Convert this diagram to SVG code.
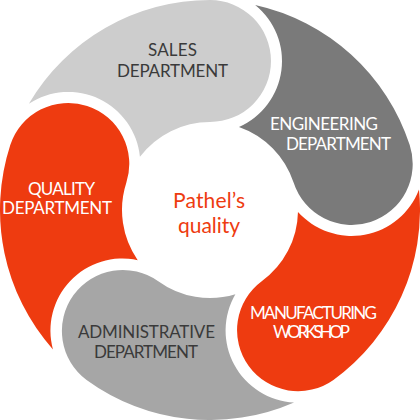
<svg xmlns="http://www.w3.org/2000/svg" width="420" height="420" viewBox="0 0 420 420">
<style>
.lbl{font-family:Lato,"Liberation Sans",sans-serif;font-size:17px;text-anchor:middle}
.dark{fill:#3a3a3a}
.light{fill:#ffffff}
.ctr{font-family:Lato,"Liberation Sans",sans-serif;font-size:21px;text-anchor:middle;fill:#ee3b10}
.red{fill:#ee3b10}
</style>
<rect width="420" height="420" fill="#ffffff"/>
<g id="sales">
<path fill="#cdcdcd" d="M28.89,103.70 A210,210 0 0 1 210,0 A61,61 0 0 1 210,122 A88,88 0 0 0 139.93,156.76 A72,72 0 0 0 28.89,103.70 Z"/>
<text class="lbl dark" x="172.5" y="56" textLength="49">SALES</text>
<text class="lbl dark" x="172.5" y="77" textLength="111">DEPARTMENT</text>
</g>
<g id="engineering">
<path fill="#7a7a7a" d="M255.13,4.90 A210,210 0 0 1 409.72,145.11 A61,61 0 0 1 293.69,182.81 A88,88 0 0 0 238.98,126.91 A72,72 0 0 0 255.13,4.90 Z"/>
<text class="lbl light" x="324" y="130" textLength="108">ENGINEERING</text>
<text class="lbl light" x="338.5" y="150" textLength="105">DEPARTMENT</text>
</g>
<g id="manufacturing">
<path class="red" d="M419.00,189.54 A210,210 0 0 1 333.43,379.89 A61,61 0 0 1 261.73,281.19 A88,88 0 0 0 297.98,211.89 A72,72 0 0 0 419.00,189.54 Z"/>
<text class="lbl light" x="313.5" y="319" textLength="127">MANUFACTURING</text>
<text class="lbl light" x="311.5" y="338" textLength="77">WORKSHOP</text>
</g>
<g id="administrative">
<path fill="#a6a6a6" d="M294.04,402.45 A210,210 0 0 1 86.57,379.89 A61,61 0 0 1 158.27,281.19 A88,88 0 0 0 235.39,294.26 A72,72 0 0 0 294.04,402.45 Z"/>
<text class="lbl dark" x="146.5" y="338" textLength="137">ADMINISTRATIVE</text>
<text class="lbl dark" x="146" y="358" textLength="104">DEPARTMENT</text>
</g>
<g id="quality">
<path class="red" d="M52.94,349.40 A210,210 0 0 1 10.28,145.11 A61,61 0 0 1 126.31,182.81 A88,88 0 0 0 137.71,260.19 A72,72 0 0 0 52.94,349.40 Z"/>
<text class="lbl light" x="61.5" y="195" textLength="67">QUALITY</text>
<text class="lbl light" x="57" y="214" textLength="110">DEPARTMENT</text>
</g>
<g id="center">
<text class="ctr" x="209" y="208" textLength="72">Pathel’s</text>
<text class="ctr" x="209" y="233" textLength="62">quality</text>
</g>
</svg>
